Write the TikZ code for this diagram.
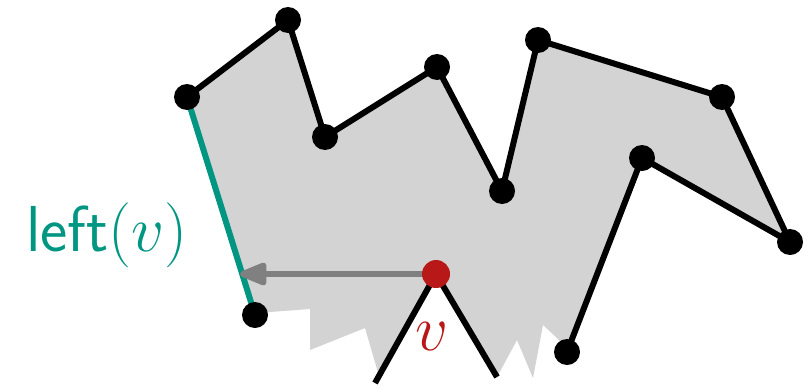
\RequirePackage{fix-cm}
\documentclass[tikz,border=0pt]{standalone}
\usetikzlibrary{arrows.meta}
\definecolor{polygray}{RGB}{211,211,211}
\definecolor{tealc}{RGB}{0,150,130}
\definecolor{redc}{RGB}{185,24,24}
\definecolor{arrgray}{RGB}{128,128,128}
\begin{document}
\begin{tikzpicture}[x=1pt,y=-1pt,
  vtx/.style={circle,fill=black,inner sep=0pt,minimum size=26pt},
  redvtx/.style={circle,fill=redc,inner sep=0pt,minimum size=28pt},
  edge/.style={line width=6pt,line join=round,line cap=butt},
  bigfont/.style={font=\fontsize{65}{65}\selectfont}]
\useasboundingbox (0,0) rectangle (810,388);
\coordinate (p1) at (187,97);
\coordinate (p2) at (288,20);
\coordinate (p3) at (325,137);
\coordinate (p4) at (437,67);
\coordinate (p5) at (502,191);
\coordinate (p6) at (538,40);
\coordinate (p7) at (722,97);
\coordinate (p8) at (790,242);
\coordinate (p9) at (642,158);
\coordinate (p10) at (567,352);
\coordinate (p11) at (255,315);
\coordinate (vv) at (436,274);
\coordinate (la) at (375,383);
\coordinate (lb) at (497,377);
\coordinate (hit) at (240,274);
% gray region with jagged lower boundary
\fill[polygray] (p1) -- (p2) -- (p3) -- (p4) -- (p5) -- (p6) -- (p7) -- (p8) -- (p9) -- (p10)
  -- (558,339) -- (543,325) -- (533,378) -- (517,340) -- (lb) -- (vv) -- (379,376)
  -- (365,328) -- (310,350) -- (310,309) -- (270,312) -- (p11) -- cycle;
% edges
\draw[edge] (p1) -- (p2) -- (p3) -- (p4) -- (p5) -- (p6) -- (p7) -- (p8) -- (p9) -- (p10);
\draw[edge] (la) -- (vv) -- (lb);
\draw[edge,tealc] (p1) -- (p11);
% arrow
\draw[arrgray,line width=6pt,-{Triangle[length=32pt,width=24pt,round]}] (vv) -- (hit);
% vertices
\foreach \p in {p1,p2,p3,p4,p5,p6,p7,p8,p9,p10,p11}
  \node[vtx] (n\p) at (\p) {};
\node[redvtx] (nv) at (vv) {};
% labels
\node[bigfont,text=tealc,anchor=base west,inner sep=0pt] (leftlab) at (26,251) {\textsf{left}$(v)$};
\node[bigfont,text=redc,anchor=base,inner sep=0pt] (vlab) at (432,350) {$v$};
\end{tikzpicture}
\end{document}
